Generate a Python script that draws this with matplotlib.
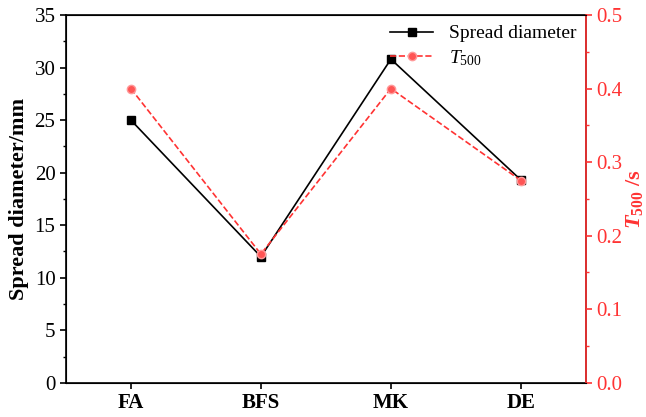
import numpy as np
import matplotlib.pyplot as plt

plt.rcParams['font.family'] = ['Liberation Serif', 'DejaVu Serif']
plt.rcParams['mathtext.fontset'] = 'custom'
plt.rcParams['mathtext.rm'] = 'Liberation Serif'
plt.rcParams['mathtext.it'] = 'Liberation Serif:italic'
plt.rcParams['mathtext.bf'] = 'Liberation Serif:bold'
plt.rcParams['mathtext.bfit'] = 'Liberation Serif:bold:italic'

categories = ['FA', 'BFS', 'MK', 'DE']
spread = [25.0, 12.0, 30.8, 19.3]
t500 = [0.40, 0.175, 0.40, 0.275]

red = '#ff3333'

fig, ax = plt.subplots(figsize=(6.46, 4.17), dpi=100)
fig.subplots_adjust(left=0.102, right=0.907, top=0.964, bottom=0.082)
x = np.arange(len(categories))

l1, = ax.plot(x, spread, color='black', lw=1.2, marker='s', ms=6,
              label='Spread diameter')
ax.set_xlim(-0.5, 3.5)
ax.set_ylim(0, 35)
ax.set_yticks(np.arange(0, 36, 5))
ax.set_yticks(np.arange(2.5, 35, 5), minor=True)
ax.set_xticks(x)
ax.set_xticklabels(categories, fontweight='bold')
ax.set_ylabel('Spread diameter/mm', fontsize=16, fontweight='bold')
ax.tick_params(axis='both', direction='out', labelsize=15, width=1.2, length=4)
ax.tick_params(axis='y', which='minor', direction='out', length=2.5, width=1)
for s in ax.spines.values():
    s.set_linewidth(1.2)

ax2 = ax.twinx()
l2, = ax2.plot(x, t500, color=red, lw=1.2, ls='--', marker='o', ms=6,
               markerfacecolor='#ff5555', markeredgecolor='#ff9999',
               label='$T_{500}$')
ax2.set_ylim(0, 0.5)
ax2.set_yticks(np.arange(0, 0.51, 0.1))
ax2.set_yticks(np.arange(0.05, 0.5, 0.1), minor=True)
ax2.yaxis.set_major_formatter(plt.FormatStrFormatter('%.1f'))
ax2.tick_params(axis='y', direction='out', labelsize=15, colors=red,
                width=1.2, length=4)
ax2.tick_params(axis='y', which='minor', direction='out', length=2.5,
                width=1, colors=red)
ax2.spines['right'].set_color(red)
ax2.spines['right'].set_linewidth(1.2)
ax2.set_ylabel(r'$\boldsymbol{T}_{\mathbf{500}}$ /s', fontsize=16,
               fontweight='bold', color=red, labelpad=1)

ax.legend(handles=[l1, l2], loc='upper right', frameon=False, fontsize=14,
          handlelength=2.2, borderaxespad=0.1, labelspacing=0.3)

fig.savefig('out.png', dpi=100)
